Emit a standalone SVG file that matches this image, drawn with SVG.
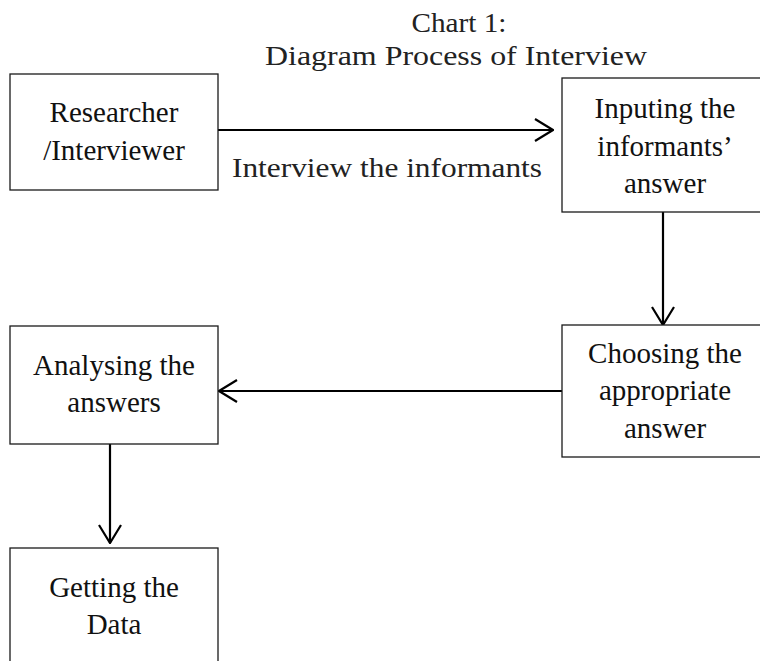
<svg xmlns="http://www.w3.org/2000/svg" width="760" height="661" viewBox="0 0 760 661">
<style>
.bg{fill:#ffffff}
.box{fill:#ffffff;stroke:#1a1a1a;stroke-width:1.3}
.t{font-family:"Liberation Serif","Times New Roman",serif;font-size:29px;fill:#111111;text-anchor:middle}
.g{font-family:"Liberation Serif","Times New Roman",serif;font-size:28px;fill:#222222;text-anchor:middle}
.ln{fill:none;stroke:#000000;stroke-width:2.2}
</style>
<defs>
<marker id="arr" viewBox="0 0 20 24" refX="19" refY="12" markerWidth="20" markerHeight="24" markerUnits="userSpaceOnUse" orient="auto">
<path d="M1,1 L19,12 L1,23" fill="none" stroke="#000000" stroke-width="2.2"/>
</marker>
</defs>
<rect class="bg" x="0" y="0" width="760" height="661"/>
<g id="title">
<text class="g" x="459" y="32" textLength="95" lengthAdjust="spacingAndGlyphs">Chart 1:</text>
<text class="g" x="456" y="65" textLength="382" lengthAdjust="spacingAndGlyphs">Diagram Process of Interview</text>
</g>
<g id="connectors">
<line class="ln" x1="218" y1="130" x2="553" y2="130" marker-end="url(#arr)"/>
<line class="ln" x1="663" y1="212" x2="663" y2="325" marker-end="url(#arr)"/>
<line class="ln" x1="562" y1="391" x2="219" y2="391" marker-end="url(#arr)"/>
<line class="ln" x1="110" y1="444" x2="110" y2="543" marker-end="url(#arr)"/>
<text class="g" x="387" y="177" textLength="310" lengthAdjust="spacingAndGlyphs">Interview the informants</text>
</g>
<g id="researcher">
<rect class="box" x="10" y="74" width="208" height="116"/>
<text class="t" x="114" y="122">Researcher</text>
<text class="t" x="114" y="160">/Interviewer</text>
</g>
<g id="inputing">
<rect class="box" x="562" y="78" width="202" height="134"/>
<text class="t" x="665" y="118">Inputing the</text>
<text class="t" x="665" y="156">informants’</text>
<text class="t" x="665" y="193">answer</text>
</g>
<g id="choosing">
<rect class="box" x="562" y="325" width="202" height="132"/>
<text class="t" x="665" y="363">Choosing the</text>
<text class="t" x="665" y="400">appropriate</text>
<text class="t" x="665" y="438">answer</text>
</g>
<g id="analysing">
<rect class="box" x="10" y="326" width="208" height="118"/>
<text class="t" x="114" y="375">Analysing the</text>
<text class="t" x="114" y="412">answers</text>
</g>
<g id="getting">
<rect class="box" x="10" y="548" width="208" height="130"/>
<text class="t" x="114" y="597">Getting the</text>
<text class="t" x="114" y="634">Data</text>
</g>
</svg>
